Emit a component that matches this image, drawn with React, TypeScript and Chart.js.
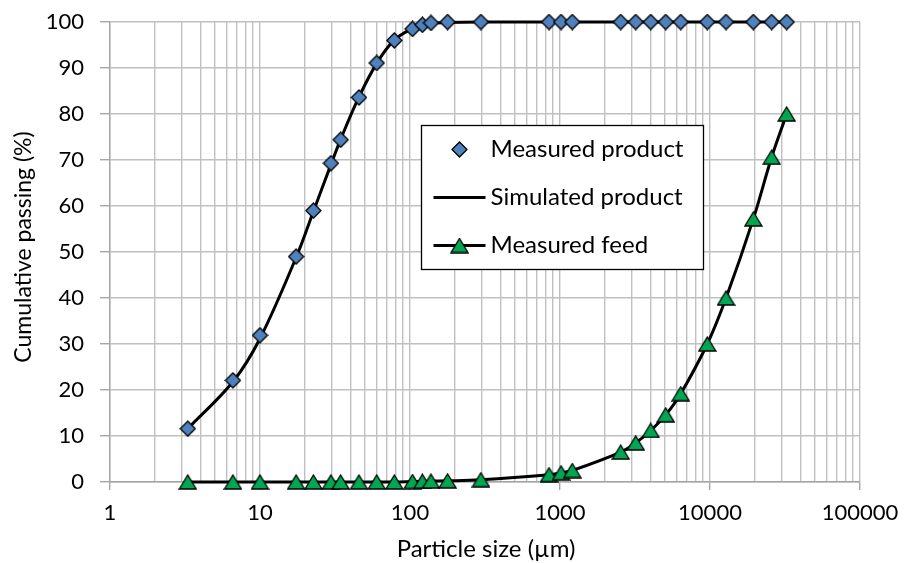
import React, { useEffect, useRef } from "react";
import { Chart, registerables } from "chart.js";

Chart.register(...registerables);

// ---- data ----
const particleSizes = [3.3, 6.6, 10, 17.4, 22.7, 29.7, 34.5, 45.7, 60, 78.6, 104, 121, 138, 178, 297, 845, 1016, 1208, 2540, 3198, 4025, 5067, 6380, 9590, 12790, 19450, 25760, 32450];
const measuredProduct = [11.6, 22.1, 31.9, 49.0, 59.0, 69.3, 74.4, 83.6, 91.1, 96.0, 98.5, 99.4, 99.8, 100, 100, 100, 100, 100, 100, 100, 100, 100, 100, 100, 100, 100, 100, 100];
const simulatedProduct = [11.6, 21.8, 31.2, 48.8, 58.8, 69.0, 74.5, 83.7, 91.0, 96.1, 98.6, 99.3, 99.7, 99.9, 100, 100, 100, 100, 100, 100, 100, 100, 100, 100, 100, 100, 100, 100];
const measuredFeed = [0, 0, 0, 0, 0, 0, 0, 0, 0, 0, 0.1, 0.15, 0.2, 0.25, 0.5, 1.6, 2.0, 2.5, 6.5, 8.5, 11.2, 14.6, 19.2, 30.0, 40.0, 57.2, 70.6, 80.0];
const xMajorTicks = [1, 10, 100, 1000, 10000, 100000];
const yTicks = [0, 10, 20, 30, 40, 50, 60, 70, 80, 90, 100];
const seriesNames = ["Measured product", "Simulated product", "Measured feed"];
const xTitle = "Particle size (µm)";
const yTitle = "Cumulative passing (%)";

const FONT = "Lato";
const BLUE = "#4f81bd";
const GREEN = "#00a651";
const GRID = "#c0c0c0";
const AXIS = "#a6a6a6";

function makeDiamond(): HTMLCanvasElement {
  const c = document.createElement("canvas");
  c.width = 17;
  c.height = 17;
  const g = c.getContext("2d")!;
  g.beginPath();
  g.moveTo(8.5, 1);
  g.lineTo(16, 8.5);
  g.lineTo(8.5, 16);
  g.lineTo(1, 8.5);
  g.closePath();
  g.fillStyle = BLUE;
  g.fill();
  g.lineWidth = 1.3;
  g.strokeStyle = "#000";
  g.stroke();
  return c;
}

function makeTriangle(): HTMLCanvasElement {
  const c = document.createElement("canvas");
  c.width = 19;
  c.height = 16;
  const g = c.getContext("2d")!;
  g.beginPath();
  g.moveTo(9.5, 1);
  g.lineTo(18, 15);
  g.lineTo(1, 15);
  g.closePath();
  g.fillStyle = GREEN;
  g.fill();
  g.lineWidth = 1.3;
  g.strokeStyle = "#000";
  g.stroke();
  return c;
}

function zeroPadding(scale: any) {
  scale.paddingTop = 0;
  scale.paddingBottom = 0;
  scale.paddingLeft = 0;
  scale.paddingRight = 0;
}

export default function App() {
  const ref = useRef<HTMLCanvasElement | null>(null);

  useEffect(() => {
    document.body.style.margin = "0";
    const diamond = makeDiamond();
    const triangle = makeTriangle();

    const overlayPlugin = {
      id: "overlay",
      afterDraw(chart: any) {
        const ctx = chart.ctx as CanvasRenderingContext2D;
        const a = chart.chartArea;
        ctx.save();
        // axis titles
        ctx.fillStyle = "#000";
        ctx.textAlign = "center";
        ctx.textBaseline = "middle";
        ctx.font = `24px ${FONT}`;
        ctx.fillText(xTitle, (a.left + a.right) / 2 + 1, a.bottom + 67);
        ctx.save();
        ctx.translate(a.left - 86, (a.top + a.bottom) / 2 - 5);
        ctx.rotate(-Math.PI / 2);
        ctx.font = `23px ${FONT}`;
        ctx.fillText(yTitle, 0, 0);
        ctx.restore();

        // legend box
        const left = a.left + 311.5;
        const top = a.top + 103.5;
        const w = 282;
        const h = 144;
        ctx.fillStyle = "#fff";
        ctx.fillRect(left, top, w, h);
        ctx.lineWidth = 1.3;
        ctx.strokeStyle = "#000";
        ctx.strokeRect(left, top, w, h);
        const symX = left + 38;
        const textX = left + 69;
        const rows = [top + 24, top + 72, top + 120];
        ctx.font = `24px ${FONT}`;
        ctx.fillStyle = "#000";
        ctx.textBaseline = "middle";
        ctx.textAlign = "left";
        ctx.drawImage(diamond, symX - 8.5, rows[0] - 8.5);
        ctx.fillText(seriesNames[0], textX, rows[0]);
        ctx.beginPath();
        ctx.moveTo(left + 12, rows[1]);
        ctx.lineTo(left + 64, rows[1]);
        ctx.lineWidth = 3;
        ctx.stroke();
        ctx.fillText(seriesNames[1], textX, rows[1]);
        ctx.beginPath();
        ctx.moveTo(left + 12, rows[2]);
        ctx.lineTo(left + 64, rows[2]);
        ctx.lineWidth = 3;
        ctx.stroke();
        ctx.drawImage(triangle, symX - 9.5, rows[2] - 8);
        ctx.fillText(seriesNames[2], textX, rows[2]);
        ctx.restore();
      },
    };

    const chart = new Chart(ref.current!, {
      type: "line",
      data: {
        datasets: [
          {
            label: seriesNames[0],
            data: particleSizes.map((x, i) => ({ x, y: measuredProduct[i] })),
            showLine: false,
            pointStyle: diamond as any,
            pointRadius: 8,
            order: 0,
            clip: false as any,
          },
          {
            label: seriesNames[1],
            data: particleSizes.map((x, i) => ({ x, y: simulatedProduct[i] })),
            borderColor: "#000",
            borderWidth: 3,
            pointRadius: 0,
            tension: 0.35,
            order: 2,
            clip: false as any,
          },
          {
            label: seriesNames[2],
            data: particleSizes.map((x, i) => ({ x, y: measuredFeed[i] })),
            borderColor: "#000",
            borderWidth: 3,
            pointStyle: triangle as any,
            pointRadius: 8,
            tension: 0.35,
            order: 1,
            clip: false as any,
          },
        ],
      },
      options: {
        animation: false,
        responsive: false,
        maintainAspectRatio: false,
        events: [],
        layout: { padding: { top: 22, right: 44, left: 0, bottom: 0 } },
        plugins: {
          legend: { display: false },
          tooltip: { enabled: false },
        },
        scales: {
          x: {
            type: "logarithmic",
            min: 1,
            max: 100000,
            afterBuildTicks(scale: any) {
              const t: any[] = [];
              for (let k = 0; k < 5; k++) {
                const base = xMajorTicks[k];
                for (let m = 1; m <= 9; m++) t.push({ value: base * m });
              }
              t.push({ value: xMajorTicks[5] });
              scale.ticks = t;
            },
            afterFit(scale: any) {
              scale.height = 81;
              zeroPadding(scale);
            },
            ticks: {
              autoSkip: false,
              maxRotation: 0,
              minRotation: 0,
              padding: 10,
              color: "#000",
              font: { family: FONT, size: 22 },
              callback: (v: any) => (xMajorTicks.includes(Number(v)) ? String(v) : ""),
            },
            grid: {
              color: GRID,
              lineWidth: 1.4,
              tickLength: 8,
              tickColor: (c: any) => (c.tick && xMajorTicks.includes(c.tick.value) ? AXIS : "rgba(0,0,0,0)"),
            },
            border: { color: AXIS, width: 1.4 },
          },
          y: {
            type: "linear",
            min: 0,
            max: 100,
            afterBuildTicks(scale: any) {
              scale.ticks = yTicks.map((v) => ({ value: v }));
            },
            afterFit(scale: any) {
              scale.width = 110;
              zeroPadding(scale);
            },
            ticks: {
              padding: 16,
              color: "#000",
              font: { family: FONT, size: 22 },
            },
            grid: {
              color: GRID,
              lineWidth: 1.4,
              tickLength: 10,
              tickColor: AXIS,
            },
            border: { color: AXIS, width: 1.4 },
          },
        },
      },
      plugins: [overlayPlugin],
    } as any);

    return () => chart.destroy();
  }, []);

  return (
    <div style={{ width: 904, height: 563, position: "relative", background: "#fff" }}>
      <canvas ref={ref} width={904} height={563} style={{ display: "block", width: 904, height: 563 }} />
    </div>
  );
}
